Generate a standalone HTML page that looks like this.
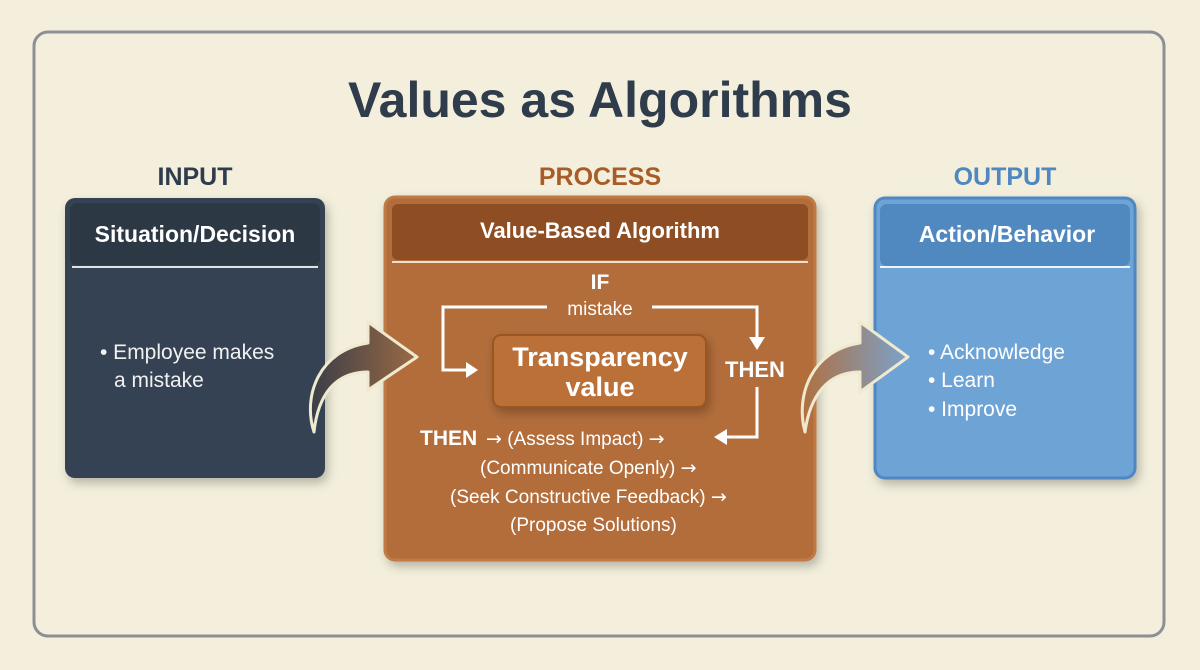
<!DOCTYPE html>
<html><head><meta charset="utf-8"><style>
body{margin:0;width:1200px;height:670px;background:#f3efdc;overflow:hidden;font-family:"Liberation Sans",sans-serif}
svg{position:absolute;left:0;top:0}
text{font-family:"Liberation Sans","DejaVu Sans",sans-serif}
</style></head><body>
<svg width="1200" height="670" viewBox="0 0 1200 670">
<defs>
<linearGradient id="a1" x1="0" x2="1"><stop offset="0" stop-color="#3a3e48"/><stop offset="1" stop-color="#9a6a44"/></linearGradient>
<linearGradient id="a2" x1="0" x2="1"><stop offset="0" stop-color="#b07040"/><stop offset="1" stop-color="#7aa2cc"/></linearGradient>
<filter id="sh" x="-10%" y="-10%" width="130%" height="130%"><feDropShadow dx="3" dy="5" stdDeviation="5" flood-color="#000" flood-opacity="0.25"/></filter>
</defs>
<rect x="34" y="32" width="1130" height="604" rx="14" fill="none" stroke="#8c8f93" stroke-width="3"/>
<text x="600" y="117" text-anchor="middle" font-size="50" font-weight="bold" fill="#2f3c4b">Values as Algorithms</text>
<text x="195" y="185" text-anchor="middle" font-size="25" font-weight="bold" fill="#2f3c4b">INPUT</text>
<text x="600" y="185" text-anchor="middle" font-size="25" font-weight="bold" fill="#a85d28">PROCESS</text>
<text x="1005" y="185" text-anchor="middle" font-size="25" font-weight="bold" fill="#4f87c0">OUTPUT</text>
<g filter="url(#sh)"><rect x="65" y="198" width="260" height="280" rx="10" fill="#364352"/></g>
<rect x="70" y="203" width="250" height="62" rx="7" fill="#2d3845"/>
<line x1="72" y1="267" x2="318" y2="267" stroke="#dfe3e6" stroke-width="2"/>
<text x="195" y="242" text-anchor="middle" font-size="23" font-weight="bold" fill="#fff">Situation/Decision</text>
<text x="100" y="359" font-size="21" fill="#f1f1f1">• Employee makes</text>
<text x="114" y="387" font-size="21" fill="#f1f1f1">a mistake</text>
<g filter="url(#sh)"><rect x="385" y="197" width="430" height="363" rx="10" fill="#b26d3a" stroke="#c27a44" stroke-width="3"/></g>
<rect x="392" y="204" width="416" height="56" rx="6" fill="#8e4d22"/>
<line x1="392" y1="262" x2="808" y2="262" stroke="#f1e1cc" stroke-width="2"/>
<text x="600" y="238" text-anchor="middle" font-size="22" font-weight="bold" fill="#fff">Value-Based Algorithm</text>
<text x="600" y="289" text-anchor="middle" font-size="21" font-weight="bold" fill="#fff">IF</text>
<text x="600" y="315" text-anchor="middle" font-size="19" fill="#fff">mistake</text>
<g stroke="#fff" stroke-width="3" fill="none">
<polyline points="547,307 443,307 443,370 470,370"/>
<polyline points="652,307 757,307 757,340"/>
<polyline points="757,387 757,437 722,437"/>
</g>
<polygon points="478,370 466,362 466,378" fill="#fff"/>
<polygon points="757,350 749,337 765,337" fill="#fff"/>
<polygon points="714,437 727,429 727,445" fill="#fff"/>
<g filter="url(#sh)"><rect x="493" y="335" width="213" height="72" rx="8" fill="#bb6f38" stroke="#9a5424" stroke-width="2"/></g>
<text x="600" y="366" text-anchor="middle" font-size="27" font-weight="bold" fill="#fff">Transparency</text>
<text x="600" y="396" text-anchor="middle" font-size="27" font-weight="bold" fill="#fff">value</text>
<text x="755" y="377" text-anchor="middle" font-size="22" font-weight="bold" fill="#fff">THEN</text>
<text x="420" y="445" font-size="21" font-weight="bold" fill="#fff">THEN</text>
<text x="486" y="445" font-size="19" fill="#fff"><tspan font-family="DejaVu Sans">→</tspan> (Assess Impact) <tspan font-family="DejaVu Sans">→</tspan></text>
<text x="480" y="474" font-size="19" fill="#fff">(Communicate Openly) <tspan font-family="DejaVu Sans">→</tspan></text>
<text x="450" y="503" font-size="19" fill="#fff">(Seek Constructive Feedback) <tspan font-family="DejaVu Sans">→</tspan></text>
<text x="510" y="531" font-size="19" fill="#fff">(Propose Solutions)</text>
<g filter="url(#sh)"><rect x="875" y="198" width="260" height="280" rx="10" fill="#6ea3d6" stroke="#4f87c2" stroke-width="3"/></g>
<rect x="880" y="204" width="250" height="62" rx="7" fill="#5089c0"/>
<line x1="880" y1="267" x2="1130" y2="267" stroke="#eef4fa" stroke-width="2"/>
<text x="1007" y="242" text-anchor="middle" font-size="23" font-weight="bold" fill="#fff">Action/Behavior</text>
<text x="928" y="359" font-size="21" fill="#fff">• Acknowledge</text>
<text x="928" y="387" font-size="21" fill="#fff">• Learn</text>
<text x="928" y="416" font-size="21" fill="#fff">• Improve</text>
<path d="M314,432 C302,395 320,350 368,343 L368,322 L417,357 L368,390 L368,372 C335,372 318,395 314,432 Z" fill="url(#a1)" stroke="#efe9cf" stroke-width="3" stroke-linejoin="round"/>
<path d="M805,432 C795,395 812,350 860,343 L860,322 L908,357 L860,392 L860,372 C828,372 810,395 805,432 Z" fill="url(#a2)" stroke="#efe9cf" stroke-width="3" stroke-linejoin="round"/>
</svg>
</body></html>
